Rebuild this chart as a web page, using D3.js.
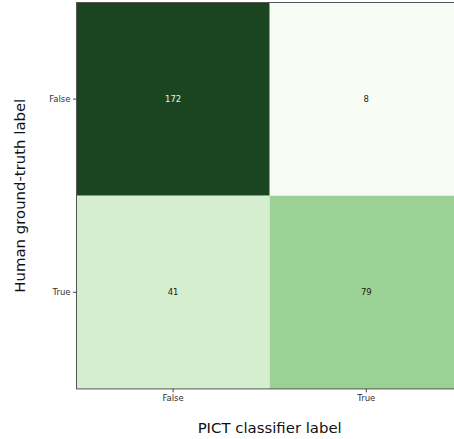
<!DOCTYPE html>
<html><head><meta charset="utf-8">
<script src="https://cdn.jsdelivr.net/npm/d3@7"></script>
<style>body{margin:0;background:#fff}svg{display:block;font-family:"DejaVu Sans",sans-serif}</style>
</head><body><svg id="c" width="454" height="439"></svg>
<script>
const predicted = ["False", "True"];
const actual = ["False", "True"];
const counts = [[172, 8], [41, 79]];
const xTitle = "PICT classifier label";
const yTitle = "Human ground-truth label";

const svg = d3.select("#c");
const m = {left: 76.5, top: 2.5};
const cell = 193.2;
const x = d3.scaleBand().domain(predicted).range([m.left, m.left + cell * 2]);
const y = d3.scaleBand().domain(actual).range([m.top, m.top + cell * 2]);
const flat = counts.flatMap((r, i) => r.map((v, j) => ({v, row: actual[i], col: predicted[j]})));
const ext = d3.extent(flat, d => d.v);
const color = d3.scaleSequential(d3.interpolateRgbBasis(["#f7fcf5","#d9efd3","#acdca0","#5aac63","#1f6f32","#1b4520"])).domain(ext);

svg.selectAll("rect.cell").data(flat).join("rect").attr("class","cell")
  .attr("x", d => x(d.col)).attr("y", d => y(d.row))
  .attr("width", x.bandwidth()).attr("height", y.bandwidth())
  .attr("fill", d => color(d.v));

svg.selectAll("text.val").data(flat).join("text").attr("class","val")
  .attr("x", d => x(d.col) + x.bandwidth()/2).attr("y", d => y(d.row) + y.bandwidth()/2)
  .attr("text-anchor","middle").attr("dominant-baseline","central")
  .attr("font-size", 8.5)
  .attr("fill", d => (d.v - ext[0]) / (ext[1] - ext[0]) > 0.6 ? "#e8f2e4" : "#222")
  .text(d => d.v);

// frame
svg.append("rect").attr("x", m.left).attr("y", m.top).attr("width", cell*2).attr("height", cell*2)
  .attr("fill","none").attr("stroke","#555").attr("stroke-width",1);

const xa = svg.append("g").attr("transform", `translate(0,${m.top + cell*2})`)
  .call(d3.axisBottom(x).tickSize(3.5).tickPadding(2.5));
const ya = svg.append("g").attr("transform", `translate(${m.left},0)`)
  .call(d3.axisLeft(y).tickSize(3.5).tickPadding(2.5));
[xa, ya].forEach(a => {
  a.select(".domain").remove();
  a.selectAll("line").attr("stroke","#444");
  a.selectAll("text").attr("font-size", 8.5).attr("fill","#333").attr("font-family","DejaVu Sans");
});

svg.append("text").attr("x", m.left + cell).attr("y", 433)
  .attr("text-anchor","middle").attr("font-size", 14.9).attr("fill","#111").text(xTitle);
svg.append("text").attr("transform", `translate(25,${m.top + cell}) rotate(-90)`)
  .attr("text-anchor","middle").attr("font-size", 14.9).attr("fill","#111").text(yTitle);
</script></body></html>
